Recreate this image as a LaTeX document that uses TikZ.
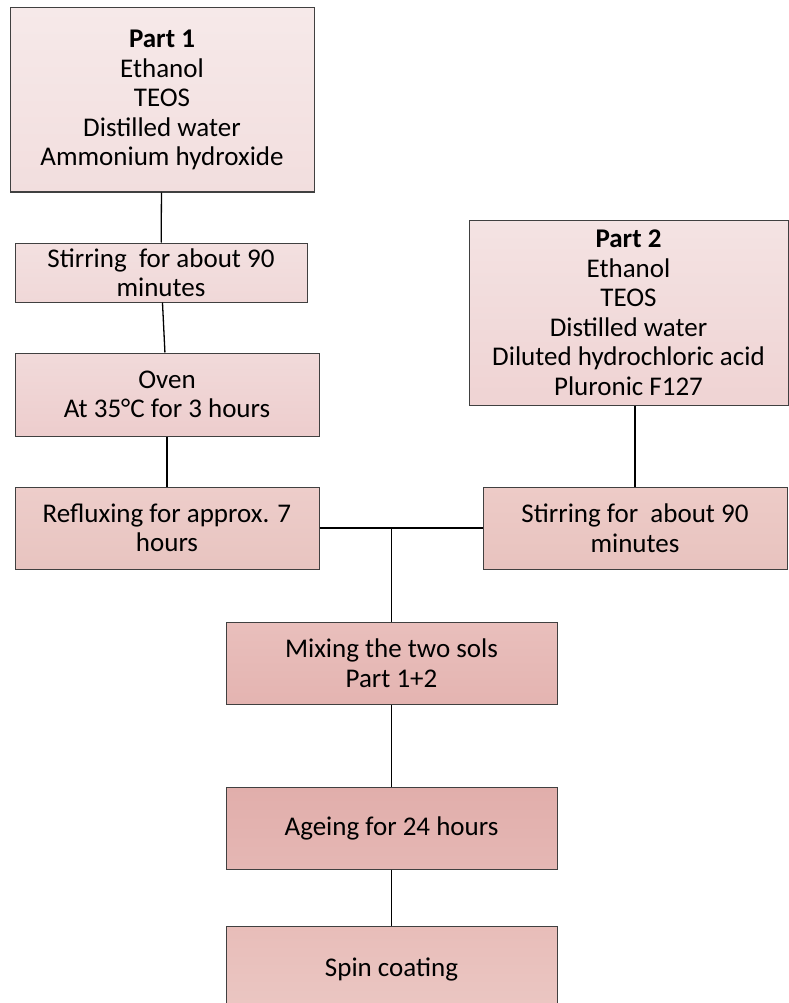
\documentclass[tikz,border=0pt]{standalone}
\usepackage{fontspec}
\setmainfont{Carlito}
\usepackage{tikz}
\usetikzlibrary{positioning,calc}

\definecolor{boxline}{HTML}{404040}
\definecolor{partonetop}{HTML}{F6E9E9}
\definecolor{partonebot}{HTML}{F2DEDE}
\definecolor{stironetop}{HTML}{F3E0E0}
\definecolor{stironebot}{HTML}{F0D8D8}
\definecolor{oventop}{HTML}{F1DADA}
\definecolor{ovenbot}{HTML}{EDCDCD}
\definecolor{refluxtop}{HTML}{EDCDCA}
\definecolor{refluxbot}{HTML}{E8C4C0}
\definecolor{parttwotop}{HTML}{F4E3E3}
\definecolor{parttwobot}{HTML}{EFD3D3}
\definecolor{stirtwotop}{HTML}{EDCBC7}
\definecolor{stirtwobot}{HTML}{E8C3BF}
\definecolor{mixtop}{HTML}{E9BFBC}
\definecolor{mixbot}{HTML}{E4B4B1}
\definecolor{agetop}{HTML}{E1AEAB}
\definecolor{agebot}{HTML}{E5B7B4}
\definecolor{spintop}{HTML}{E8BDB9}
\definecolor{spinbot}{HTML}{EBC7C3}

\begin{document}
\begin{tikzpicture}[
  x=1pt, y=-1pt,
  font=\fontsize{27}{29.5}\selectfont,
  stepbox/.style={rectangle, draw=boxline, line width=1pt, align=center, inner sep=0pt},
  tint/.style 2 args={top color=#1, bottom color=#2},
  link/.style={draw=black, line width=1.3pt}
]
  \useasboundingbox (0,0) rectangle (789,1003);
  % left branch
  \node[stepbox, tint={partonetop}{partonebot}, minimum width=304pt, minimum height=184pt] (part1) at (162,100)
    {\textbf{Part 1}\\Ethanol\\TEOS\\Distilled water\\Ammonium hydroxide};
  \node[stepbox, tint={stironetop}{stironebot}, minimum width=292pt, minimum height=59pt] (stir1) at (161,272.5)
    {Stirring\ \ for about 90\\minutes};
  \node[stepbox, tint={oventop}{ovenbot}, minimum width=304pt, minimum height=83pt] (oven) at (167,394.5)
    {Oven\\At 35°C for 3 hours};
  \node[stepbox, tint={refluxtop}{refluxbot}, minimum width=304pt, minimum height=82pt] (reflux) at (167,528)
    {Refluxing for approx. 7\\hours};
  % right branch
  \node[stepbox, tint={parttwotop}{parttwobot}, minimum width=319pt, minimum height=185pt] (part2) at (628.5,312.5)
    {\textbf{Part 2}\\Ethanol\\TEOS\\Distilled water\\Diluted hydrochloric acid\\Pluronic F127};
  \node[stepbox, tint={stirtwotop}{stirtwobot}, minimum width=304pt, minimum height=82pt] (stir2) at (635,528)
    {Stirring for\ \ about 90\\minutes};
  % common trunk
  \node[stepbox, tint={mixtop}{mixbot}, minimum width=331pt, minimum height=82pt] (mix) at (391.5,663)
    {Mixing the two sols\\Part 1+2};
  \node[stepbox, tint={agetop}{agebot}, minimum width=331pt, minimum height=82pt] (age) at (391.5,828)
    {Ageing for 24 hours};
  \node[stepbox, tint={spintop}{spinbot}, minimum width=331pt, minimum height=86pt] (spin) at (391.5,969)
    {Spin coating};
  \coordinate (junc) at (mix.north |- reflux.east);

  \draw[link] (part1) -- (stir1);
  \draw[link] (stir1) -- (oven);
  \draw[link] (oven) -- (reflux);
  \draw[link] (stir2.north |- part2.south) -- (stir2.north);
  \draw[link] (reflux.east) -- (junc);
  \draw[link] (stir2.west) -- (junc);
  \draw[link] (junc) -- (mix.north);
  \draw[link] (mix) -- (age);
  \draw[link] (age) -- (spin);
\end{tikzpicture}
\end{document}
